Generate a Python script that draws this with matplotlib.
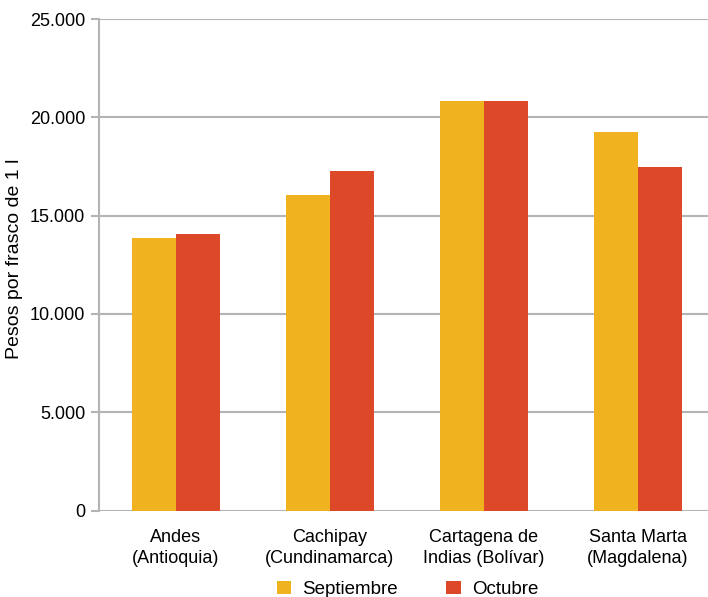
import numpy as np
import matplotlib.pyplot as plt

plt.rcParams['font.family'] = ['Liberation Sans', 'DejaVu Sans']

categories = ['Andes\n(Antioquia)', 'Cachipay\n(Cundinamarca)',
              'Cartagena de\nIndias (Bolívar)', 'Santa Marta\n(Magdalena)']
septiembre = [13870, 16050, 20850, 19260]
octubre = [14040, 17290, 20850, 17480]
yticks = [0, 5000, 10000, 15000, 20000, 25000]
ytick_labels = ['0', '5.000', '10.000', '15.000', '20.000', '25.000']

c_sep = '#F0B21E'
c_oct = '#DD4828'
grid_c = '#B4B4B4'

fig = plt.figure(figsize=(7.08, 5.97), dpi=100)
ax = fig.add_axes([99 / 708, 86.5 / 597, 616 / 708, 491.5 / 597])

x = np.arange(len(categories))
w = 0.286
ax.bar(x - w / 2, septiembre, w, color=c_sep, label='Septiembre', zorder=3)
ax.bar(x + w / 2, octubre, w, color=c_oct, label='Octubre', zorder=3)

ax.set_xlim(-0.5, 3.5)
ax.set_ylim(0, 25000)
ax.set_yticks(yticks)
ax.set_yticklabels(ytick_labels)
ax.set_xticks(x)
ax.set_xticklabels(categories, linespacing=1.35)
ax.yaxis.grid(True, color=grid_c, linewidth=1.5, zorder=0)

for s in ['top', 'right', 'bottom']:
    ax.spines[s].set_visible(False)
ax.spines['left'].set_color(grid_c)
ax.spines['left'].set_linewidth(1.5)
ax.tick_params(axis='y', length=6, width=1.5, color=grid_c, labelsize=13, pad=4)
ax.tick_params(axis='x', length=0, labelsize=13, pad=13)

fig.text(15 / 708, 1 - 259 / 597, 'Pesos por frasco de 1 l', rotation=90,
         ha='center', va='center', fontsize=14)

fig.legend(loc='center', bbox_to_anchor=(0.5755, 0.013), ncol=2, frameon=False,
           fontsize=13.5, handlelength=0.75, handleheight=0.75, columnspacing=2.6,
           handletextpad=0.6)

fig.savefig('out.png', dpi=100)
